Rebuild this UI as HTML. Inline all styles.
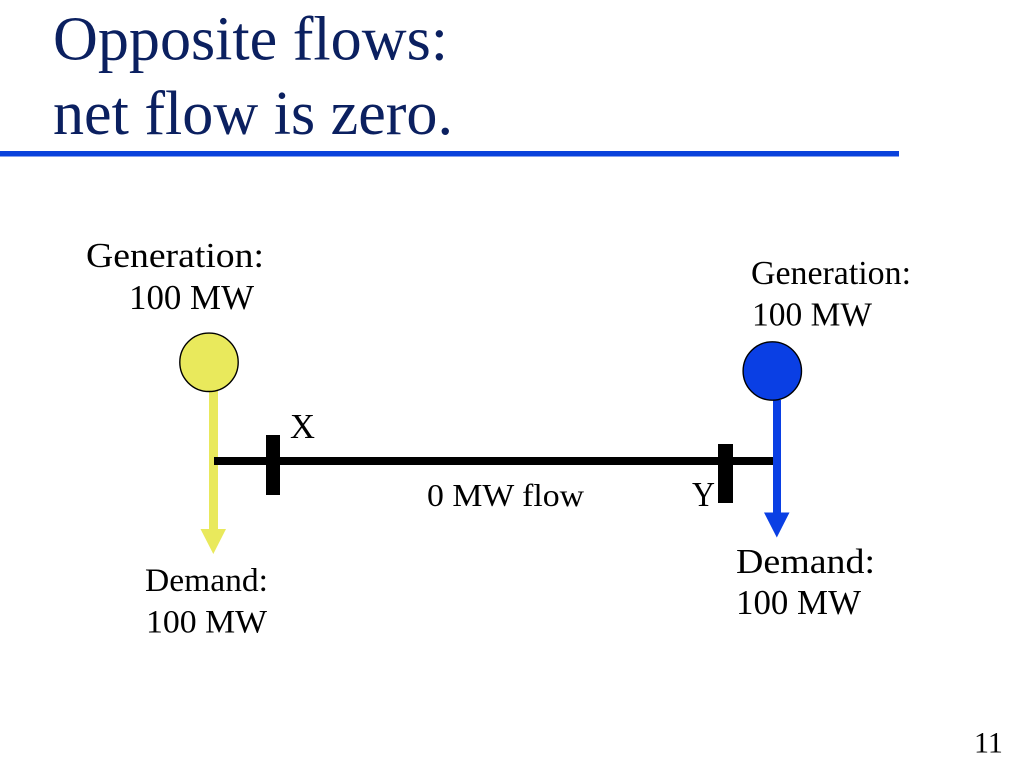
<!DOCTYPE html>
<html>
<head>
<meta charset="utf-8">
<style>
html,body{margin:0;padding:0;background:#fff;}
svg{display:block;}
text{font-family:"Liberation Serif",serif;fill:#000;}
</style>
</head>
<body>
<svg width="1024" height="768" viewBox="0 0 1024 768" xmlns="http://www.w3.org/2000/svg">
<rect width="1024" height="768" fill="#fff"/>
<text x="53" y="59.5" font-size="62" textLength="395" lengthAdjust="spacingAndGlyphs" style="fill:#0b2060">Opposite flows:</text>
<text x="53" y="134" font-size="62" textLength="400" lengthAdjust="spacingAndGlyphs" style="fill:#0b2060">net flow is zero.</text>
<rect x="0" y="151" width="899" height="5.5" fill="#0a42dc"/>

<text x="86" y="267" font-size="35" textLength="178" lengthAdjust="spacingAndGlyphs">Generation:</text>
<text x="129" y="309" font-size="35" textLength="125" lengthAdjust="spacingAndGlyphs">100 MW</text>
<text x="751" y="284" font-size="34" textLength="160" lengthAdjust="spacingAndGlyphs">Generation:</text>
<text x="752" y="325.5" font-size="34" textLength="120" lengthAdjust="spacingAndGlyphs">100 MW</text>

<rect x="209" y="391" width="9" height="139" fill="#e9e95c"/>
<polygon points="200.5,529 226,529 213.3,554" fill="#e9e95c"/>
<circle cx="209" cy="362.3" r="29.2" fill="#e9e95c" stroke="#000" stroke-width="1.4"/>

<rect x="214" y="457" width="559" height="8" fill="#000"/>
<rect x="266" y="435" width="14" height="60" fill="#000"/>
<rect x="718" y="444" width="15" height="59" fill="#000"/>

<rect x="773" y="400" width="8" height="114" fill="#0a3fe4"/>
<polygon points="764,512.5 789.5,512.5 776.8,537.5" fill="#0a3fe4"/>
<circle cx="772.3" cy="371" r="29.2" fill="#0a3fe4" stroke="#000" stroke-width="1.4"/>

<text x="290" y="438" font-size="35" textLength="25" lengthAdjust="spacingAndGlyphs">X</text>
<text x="692" y="506" font-size="35" textLength="23" lengthAdjust="spacingAndGlyphs">Y</text>
<text x="427" y="506" font-size="32" textLength="157" lengthAdjust="spacingAndGlyphs">0 MW flow</text>

<text x="145" y="591" font-size="33" textLength="123" lengthAdjust="spacingAndGlyphs">Demand:</text>
<text x="146" y="632.5" font-size="33" textLength="121" lengthAdjust="spacingAndGlyphs">100 MW</text>
<text x="736" y="573" font-size="35" textLength="139" lengthAdjust="spacingAndGlyphs">Demand:</text>
<text x="736" y="614" font-size="35" textLength="125" lengthAdjust="spacingAndGlyphs">100 MW</text>

<text x="974" y="752.5" font-size="30">11</text>
</svg>
</body>
</html>
